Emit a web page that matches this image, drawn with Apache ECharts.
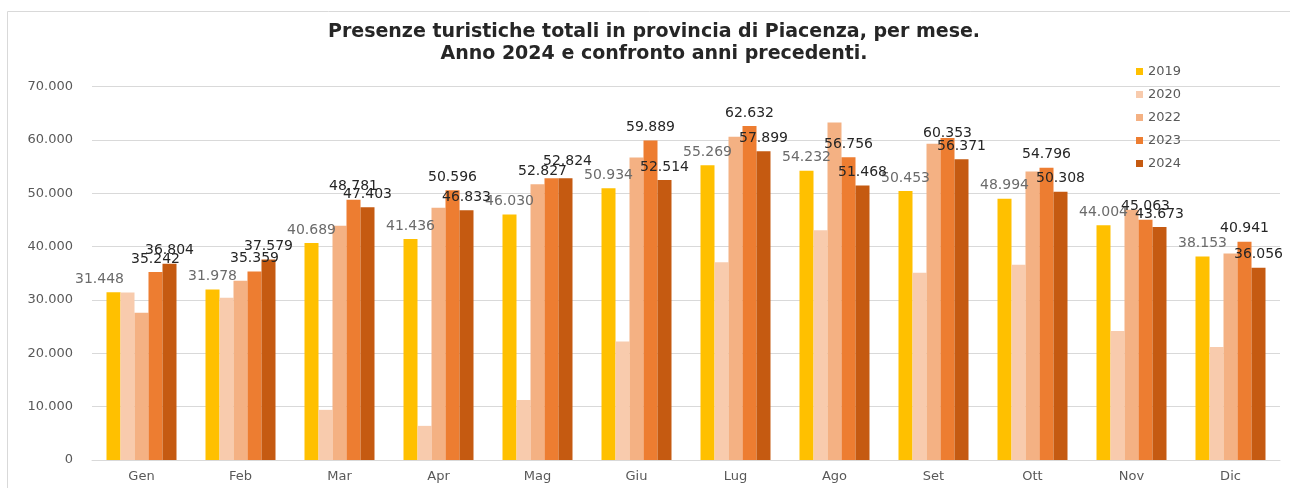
<!DOCTYPE html>
<html>
<head>
<meta charset="utf-8">
<script src="https://cdn.jsdelivr.net/npm/echarts@6/dist/echarts.min.js"></script>
<style>
html,body{margin:0;padding:0;background:#fff;}
#chart{width:1290px;height:488px;}
</style>
</head>
<body>
<div id="chart"></div>
<script>
const categories = ['Gen','Feb','Mar','Apr','Mag','Giu','Lug','Ago','Set','Ott','Nov','Dic'];
const years = ['2019','2020','2022','2023','2024'];
const v2019 = [31448,31978,40689,41436,46030,50934,55269,54232,50453,48994,44004,38153];
const v2020 = [31400,30400,9400,6400,11250,22200,37100,43100,35100,36600,24200,21200];
const v2022 = [27600,33600,43900,47300,51700,56700,60600,63300,59300,54100,46900,38700];
const v2023 = [35242,35359,48781,50596,52827,59889,62632,56756,60353,54796,45063,40941];
const v2024 = [36804,37579,47403,46833,52824,52514,57899,51468,56371,50308,43673,36056];
const yTicks = [0,10000,20000,30000,40000,50000,60000,70000];

const colors = ['#FFC000','#F8CBAD','#F4B183','#ED7D31','#C55A11'];
const FONT = 'DejaVu Sans';

function fmt(v){
  const s = String(Math.round(v));
  return s.replace(/\B(?=(\d{3})+(?!\d))/g, '.');
}

const seriesValues = [v2019, v2020, v2022, v2023, v2024];
const labelled = [true, false, false, true, true];
const labelColors = ['#6b6b6b', '#262626', '#262626', '#262626', '#262626'];
// manual label nudges (series index - category index), like the moved labels in the original
const labelNudges = {'0-0': [-14, 0], '3-4': [-9, 6], '4-4': [2, -4], '3-8': [0, 8]};

const series = years.map((y, i) => ({
  name: y,
  type: 'bar',
  barWidth: 14,
  barGap: '0%',
  data: seriesValues[i].map((v, j) => {
    const n = labelNudges[i + '-' + j];
    return n ? {value: v, label: {offset: n}} : v;
  }),
  itemStyle: {color: colors[i]},
  label: {
    show: labelled[i],
    position: 'top',
    distance: 6,
    fontFamily: FONT,
    fontSize: 14,
    color: labelColors[i],
    formatter: p => fmt(p.value)
  }
}));

const chart = echarts.init(document.getElementById('chart'));
chart.setOption({
  animation: false,
  color: colors,
  title: {
    text: 'Presenze turistiche totali in provincia di Piacenza, per mese.\nAnno 2024 e confronto anni precedenti.',
    left: 654,
    textAlign: 'center',
    top: 21,
    padding: 0,
    textStyle: {fontFamily: FONT, fontWeight: 'bold', fontSize: 19, lineHeight: 22, color: '#262626'}
  },
  legend: {
    orient: 'vertical',
    left: 1136,
    top: 65,
    icon: 'rect',
    itemWidth: 7,
    itemHeight: 7,
    itemGap: 10,
    padding: 0,
    data: years,
    textStyle: {fontFamily: FONT, fontSize: 13, lineHeight: 13, color: '#595959'}
  },
  grid: {left: 92, right: 10, top: 86.67, bottom: 28, containLabel: false},
  xAxis: {
    type: 'category',
    data: categories,
    axisLine: {show: true, lineStyle: {color: '#d9d9d9', width: 1}},
    axisTick: {show: false},
    axisLabel: {fontFamily: FONT, fontSize: 13, color: '#595959', margin: 10}
  },
  yAxis: {
    type: 'value',
    min: yTicks[0],
    max: yTicks[yTicks.length - 1],
    interval: yTicks[1] - yTicks[0],
    axisLine: {show: false},
    axisTick: {show: false},
    splitLine: {lineStyle: {color: '#d9d9d9', width: 1}},
    axisLabel: {fontFamily: FONT, fontSize: 13, color: '#595959', margin: 19, formatter: v => fmt(v)}
  },
  graphic: [{
    type: 'rect',
    shape: {x: 7.5, y: 11.5, width: 1300, height: 500},
    style: {fill: 'none', stroke: '#d9d9d9', lineWidth: 1},
    silent: true,
    z: -1
  }],
  series: series
});
</script>
</body>
</html>
